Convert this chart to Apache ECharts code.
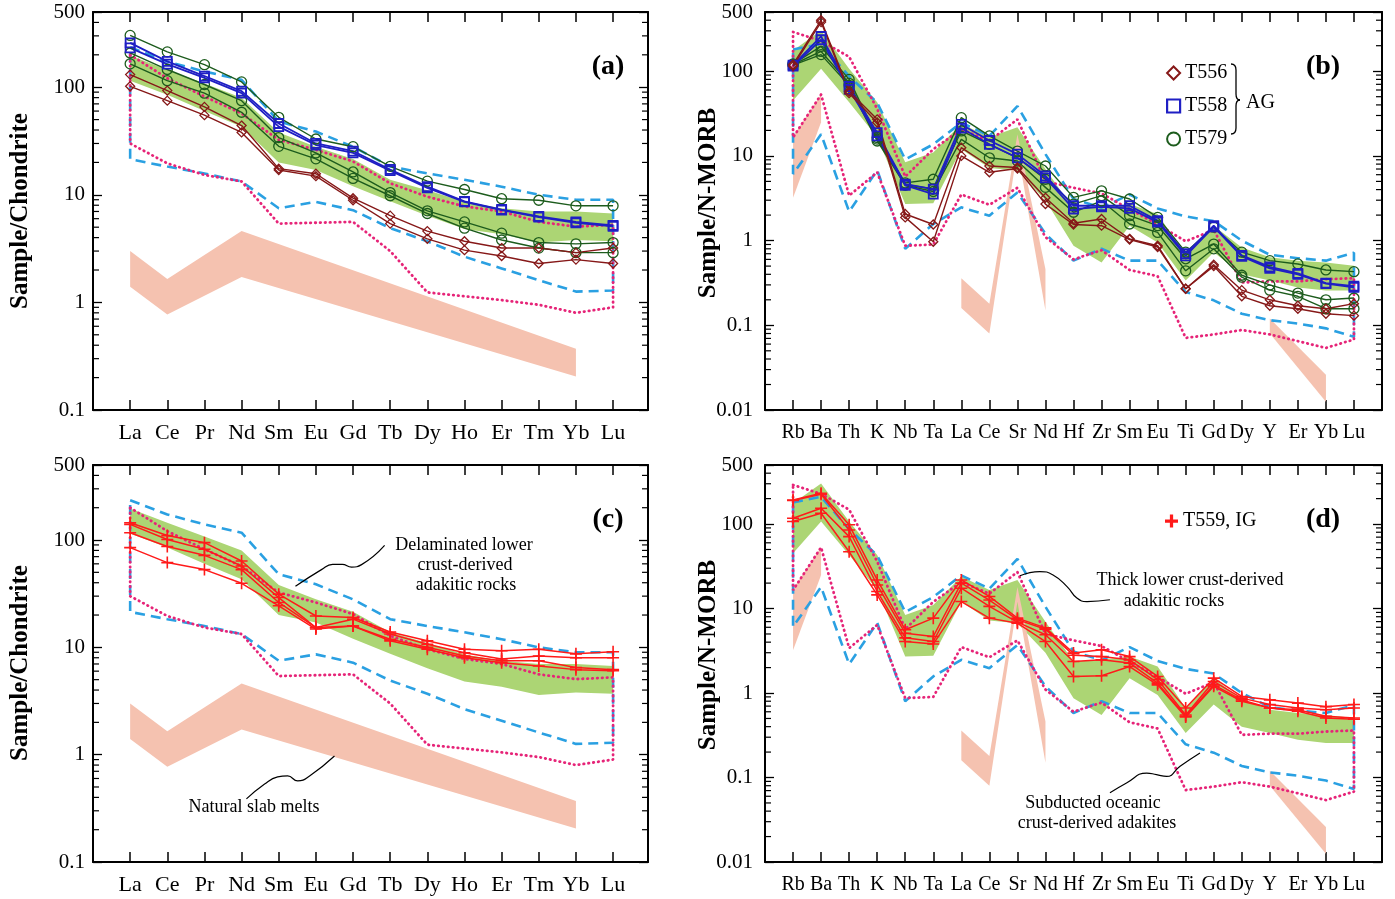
<!DOCTYPE html>
<html><head><meta charset="utf-8">
<script src="https://cdn.jsdelivr.net/npm/echarts@6/dist/echarts.min.js"></script>
<style>html,body{margin:0;padding:0;background:#fff}#c{width:1395px;height:899px}</style>
</head><body><div id="c"></div><script>
// ---------- categories ----------
const REE = ['La','Ce','Pr','Nd','Sm','Eu','Gd','Tb','Dy','Ho','Er','Tm','Yb','Lu'];
const TRACE = ['Rb','Ba','Th','K','Nb','Ta','La','Ce','Sr','Nd','Hf','Zr','Sm','Eu','Ti','Gd','Dy','Y','Er','Yb','Lu'];

// ---------- (a) chondrite-normalised REE, AG samples ----------
const a_T556_1 = [131, 93, 65.6, 44, 17.5, 15.7, 9.3, 6.4, 4.6, 3.7, 3.2, 3.2, 2.9, 3.2];
const a_T556_2 = [102, 75, 55, 38, 17, 14.9, 8.9, 5.4, 3.9, 3.06, 2.7, 2.3, 2.5, 2.3];
const a_T558_1 = [258, 174, 127, 92, 46, 30, 25.5, 17.2, 11.9, 8.7, 7.3, 6.3, 5.6, 5.2];
const a_T558_2 = [232, 164, 122, 88, 43, 29, 24.5, 16.8, 11.6, 8.6, 7.2, 6.2, 5.5, 5.1];
const a_T579_1 = [303, 213, 162, 112, 52.5, 33, 28, 18.4, 13.4, 11.2, 9.2, 8.9, 7.9, 7.9];
const a_T579_2 = [208, 146, 106, 75, 34, 24.5, 16.3, 10.5, 7.1, 5.6, 4.4, 3.6, 3.5, 3.6];
const a_T579_3 = [165, 115, 88, 58.5, 28.2, 21.6, 14.2, 9.8, 6.7, 4.9, 3.8, 3.2, 2.9, 2.9];

// ---------- (c) chondrite-normalised REE, IG sample ----------
const c_T559_1 = [145, 110, 94.5, 63.8, 31.3, 19.6, 19, 13.9, 11.5, 9.6, 9.3, 9.6, 8.7, 9.1];
const c_T559_2 = [140, 101, 82, 57.3, 29.1, 15.3, 18.3, 13.3, 10.7, 8.9, 7.8, 8.3, 8.0, 8.0];
const c_T559_3 = [117, 87, 72, 53, 26.2, 15.3, 15.8, 11.9, 10.0, 8.3, 7.5, 7.5, 6.5, 6.2];
const c_T559_4 = [85, 61.6, 53, 39.5, 24.4, 14.8, 15.8, 11.5, 9.6, 8.0, 7.2, 6.7, 6.2, 6.05];

// ---------- REE reference fields ----------
const reeThickUpper = [197, 145, 108, 80, 38, 28, 21.5, 13.8, 11, 8.6, 7.5, 7.0, 7.0, 6.7];
const reeThickLower = [115, 85, 60, 43, 20, 17, 12, 8.7, 6.4, 4.8, 4.3, 3.6, 3.8, 3.7];
const reeDelamUpper = [235, 173, 140, 117, 48, 38.7, 28, 18.3, 15.8, 13.8, 11.9, 10, 9, 9];
const reeDelamLower = [21.4, 18.3, 15.8, 13.3, 7.5, 8.6, 7.2, 4.9, 3.7, 2.66, 2.07, 1.61, 1.26, 1.29];
const reeSubdUpper = [200, 121, 82, 57, 32.4, 26.2, 20.4, 12.8, 9.6, 7.8, 7.0, 5.6, 5.06, 5.25];
const reeSubdLower = [30, 19.6, 15.3, 13.3, 5.4, 5.5, 5.6, 3.0, 1.24, 1.14, 1.05, 0.95, 0.8, 0.9];
const reeSlabCats = ['La','Ce','Nd','Yb'];
const reeSlabUpper = [3.0, 1.65, 4.6, 0.37];
const reeSlabLower = [1.4, 0.77, 1.72, 0.205];

// ---------- (b) N-MORB-normalised trace, AG samples ----------
const b_T556_1 = [120, 400, 58, 27, 2.06, 1.55, 12.5, 7.6, 7.3, 3.2, 1.6, 1.8, 1.05, 0.87, 0.27, 0.52, 0.26, 0.2, 0.17, 0.157, 0.18];
const b_T556_2 = [115, 380, 55, 24.8, 1.88, 0.97, 10.0, 6.4, 7.1, 2.7, 1.55, 1.5, 1.03, 0.84, 0.27, 0.5, 0.22, 0.17, 0.157, 0.137, 0.13];
const b_T558_1 = [118, 257, 66, 18.8, 4.65, 4.06, 23.5, 15.2, 10.5, 5.8, 2.58, 2.58, 2.58, 1.72, 0.7, 1.5, 0.67, 0.49, 0.41, 0.315, 0.29];
const b_T558_2 = [115, 235, 61, 17.2, 4.5, 3.54, 21.3, 13.7, 9.5, 5.5, 2.36, 2.5, 2.4, 1.65, 0.66, 1.45, 0.65, 0.47, 0.4, 0.31, 0.28];
const b_T579_1 = [122, 196, 80, 16.5, 4.8, 5.3, 28.3, 17.2, 11.4, 7.6, 3.24, 3.87, 3.1, 1.88, 0.73, 1.44, 0.73, 0.58, 0.53, 0.45, 0.43];
const b_T579_2 = [120, 171, 72, 15.8, 4.6, 4.06, 19.7, 13.7, 9.5, 5.3, 2.7, 3.39, 1.97, 1.5, 0.61, 0.91, 0.39, 0.3, 0.24, 0.2, 0.21];
const b_T579_3 = [118, 157, 68, 15.0, 4.5, 3.8, 15.7, 9.5, 8.7, 4.25, 2.16, 2.95, 1.57, 1.25, 0.44, 0.8, 0.37, 0.26, 0.22, 0.157, 0.157];

// ---------- (d) N-MORB-normalised trace, IG sample ----------
const d_T559_1 = [193, 231, 98, 21.8, 5.6, 7.7, 21.8, 13.9, 7.7, 5.9, 2.97, 3.25, 2.7, 1.57, 0.665, 1.5, 0.91, 0.83, 0.76, 0.69, 0.73];
const d_T559_2 = [190, 225, 85, 19, 5.1, 4.67, 20, 12.6, 7.4, 5.7, 2.8, 2.7, 2.47, 1.44, 0.55, 1.37, 0.87, 0.73, 0.665, 0.635, 0.665];
const d_T559_3 = [117, 154, 71, 15.9, 4.5, 4.07, 17.4, 10.6, 6.9, 4.9, 2.36, 2.47, 2.26, 1.31, 0.53, 1.25, 0.83, 0.665, 0.635, 0.53, 0.506];
const d_T559_4 = [107, 134, 47, 14.5, 4.07, 3.8, 12.1, 7.7, 6.7, 4.07, 1.57, 1.6, 2.06, 1.25, 0.52, 1.2, 0.8, 0.665, 0.61, 0.506, 0.49];

// ---------- trace reference fields ----------
const trThickUpper = [176, 303, 107, 43, 8.4, 11, 24, 16.6, 21.8, 7, 2.36, 2.47, 2.7, 2.06, 0.665, 1.5, 0.83, 0.635, 0.58, 0.55, 0.506];
const trThickLower = [45, 107, 43, 16.6, 2.7, 2.76, 12, 7.2, 6.7, 3.0, 0.87, 0.55, 1.5, 0.95, 0.337, 0.73, 0.40, 0.337, 0.28, 0.257, 0.257];
const trDelamUpper = [180, 210, 87, 42.5, 9.1, 13.7, 24.7, 17.2, 38.7, 10.5, 3.1, 2.45, 3.5, 2.4, 1.93, 1.7, 1.0, 0.68, 0.62, 0.58, 0.72];
const trDelamLower = [6.1, 18, 2.2, 6.8, 0.8, 1.57, 2.47, 1.97, 3.7, 1.2, 0.58, 0.8, 0.58, 0.58, 0.247, 0.197, 0.137, 0.115, 0.105, 0.092, 0.073];
const trSubdUpper = [290, 228, 148, 36, 5.7, 12, 20.6, 15, 27, 5, 4.2, 3.6, 2.35, 1.55, 0.98, 1.34, 0.32, 0.33, 0.33, 0.35, 0.36];
const trSubdLower = [16.5, 53, 3.4, 6.4, 0.87, 0.9, 3.5, 2.65, 4.2, 1.1, 0.6, 0.77, 0.45, 0.38, 0.071, 0.078, 0.088, 0.078, 0.065, 0.054, 0.068];
const trSlab1Cats = ['Rb','Ba'];          const trSlab1Upper = [17, 53];            const trSlab1Lower = [3.2, 25];
const trSlab2Cats = ['La','Ce','Sr','Nd']; const trSlab2Upper = [0.36, 0.18, 18, 0.46]; const trSlab2Lower = [0.16, 0.08, 12, 0.15];
const trSlab3Cats = ['Y','Yb'];           const trSlab3Upper = [0.12, 0.026];       const trSlab3Lower = [0.08, 0.0125];

// ---------- annotation leader lines (data space: [category index, value]) ----------
const leaderDelam = [[7.85, 89], [7.23, 59], [6.96, 56], [6.71, 59.4], [6.45, 59.4], [6.15, 53], [5.45, 37]];
const leaderSlab  = [[4.13, 0.387], [4.62, 0.533], [4.97, 0.62], [5.24, 0.634], [5.51, 0.569], [5.83, 0.634], [6.5, 0.973]];
const leaderThick = [[9.09, 24.4], [9.8, 27.4], [10.27, 25.0], [10.77, 18.2], [11.12, 13.3], [11.48, 12.1], [12.3, 12.7]];
const leaderSubd  = [[12.3, 0.0658], [12.89, 0.0863], [13.61, 0.113], [13.96, 0.108], [14.32, 0.103], [14.8, 0.136], [15.51, 0.195]];

// ---------- styling ----------
const FONT = '"Liberation Serif", "Times New Roman", serif';
const C_DIA = '#861818', C_SQ = '#1f1fc4', C_CIR = '#1d5c1d', C_RED = '#ff1a1a';
const C_GREEN = '#acd574', C_SALMON = '#f5c2b0', C_DASH = '#2aa0e2', C_DOT = '#e62478';
const CROSS = 'path://M5.2,0h1.6v5.2h5.2v1.6h-5.2v5.2h-1.6v-5.2h-5.2v-1.6h5.2z';
const CROSS_BOLD = 'path://M4.5,0h3v4.5h4.5v3h-4.5v4.5h-3v-4.5h-4.5v-3h4.5z';

const grids = [
  {left: 93, top: 12, width: 555, height: 398},
  {left: 765, top: 12, width: 617, height: 398},
  {left: 93, top: 465, width: 555, height: 397},
  {left: 765, top: 465, width: 617, height: 397}
];
const panels = [
  {cats: REE, xmax: 14.94, ymin: 0.1, lm: 8, xfs: 22},
  {cats: TRACE, xmax: 22, ymin: 0.01, lm: 12, xfs: 20},
  {cats: REE, xmax: 14.94, ymin: 0.1, lm: 8, xfs: 22},
  {cats: TRACE, xmax: 22, ymin: 0.01, lm: 12, xfs: 20}
];

const xAxis = [], yAxis = [];
panels.forEach((p, g) => {
  const base = {
    gridIndex: g, type: 'value', min: 0, max: p.xmax, interval: 1,
    axisLine: {show: true, onZero: false, lineStyle: {color: '#000', width: 2}},
    axisTick: {show: true, inside: true, length: 10, lineStyle: {color: '#000', width: 1.5}},
    splitLine: {show: false}
  };
  xAxis.push(Object.assign({}, base, {position: 'bottom',
    axisLabel: {show: true, margin: p.xfs === 22 ? 12 : 13, color: '#000', fontFamily: FONT, fontSize: p.xfs,
      showMinLabel: true, showMaxLabel: true,
      formatter: v => { const i = Math.round(v); return (Math.abs(v - i) < 1e-6 && i >= 1 && i <= p.cats.length) ? p.cats[i - 1] : ''; }}}));
  xAxis.push(Object.assign({}, base, {position: 'top', axisLabel: {show: false}}));
  const ybase = {
    gridIndex: g, type: 'log', logBase: 10, min: p.ymin, max: 500,
    axisLine: {show: true, onZero: false, lineStyle: {color: '#000', width: 2}},
    axisTick: {show: true, inside: true, length: 9, lineStyle: {color: '#000', width: 1.3}},
    splitLine: {show: false}
  };
  yAxis.push(Object.assign({}, ybase, {position: 'left',
    axisLabel: {show: true, margin: p.lm, color: '#000', fontFamily: FONT, fontSize: 21,
      showMinLabel: true, showMaxLabel: true, formatter: v => String(+(+v).toPrecision(3))}}));
  yAxis.push(Object.assign({}, ybase, {position: 'right', axisLabel: {show: false}}));
});

const series = [];
const idxOf = (cats, c) => cats.indexOf(c) + 1;

function minorTicks(g) {
  const vals = [];
  for (let e = Math.round(Math.log10(panels[g].ymin)); e <= 2; e++)
    for (let k = 2; k <= 9; k++) { const v = k * Math.pow(10, e); if (v < 500) vals.push(v); }
  series.push({type: 'custom', xAxisIndex: 2 * g, yAxisIndex: 2 * g, data: [[1, 1]], silent: true, z: 10, clip: false,
    renderItem: (params, api) => {
      const cs = params.coordSys; const ch = [];
      vals.forEach(v => {
        const y = api.coord([1, v])[1];
        ch.push({type: 'line', shape: {x1: cs.x, y1: y, x2: cs.x + 6, y2: y}, style: {stroke: '#000', lineWidth: 1.2}});
        ch.push({type: 'line', shape: {x1: cs.x + cs.width - 6, y1: y, x2: cs.x + cs.width, y2: y}, style: {stroke: '#000', lineWidth: 1.2}});
      });
      return {type: 'group', children: ch};
    }});
}

function band(g, xs, upper, lower, color) {
  series.push({type: 'custom', xAxisIndex: 2 * g, yAxisIndex: 2 * g, data: [[1, 1]], silent: true, z: 1,
    renderItem: (params, api) => {
      const pts = [];
      xs.forEach((x, k) => pts.push(api.coord([x, upper[k]])));
      for (let k = xs.length - 1; k >= 0; k--) pts.push(api.coord([xs[k], lower[k]]));
      return {type: 'polygon', shape: {points: pts}, style: {fill: color}};
    }});
}

function outline(g, upper, lower, style) {
  const pts = upper.map((v, i) => [i + 1, v]);
  for (let i = lower.length - 1; i >= 0; i--) pts.push([i + 1, lower[i]]);
  pts.push([1, upper[0]]);
  series.push({type: 'line', xAxisIndex: 2 * g, yAxisIndex: 2 * g, data: pts, symbol: 'none', silent: true, z: 3,
    lineStyle: style});
}

function sample(g, name, arr, sym, size, color, lw, bw) {
  const filled = sym.indexOf('path://') === 0;
  series.push({type: 'line', name: name, xAxisIndex: 2 * g, yAxisIndex: 2 * g,
    data: arr.map((v, i) => [i + 1, v]), symbol: sym, symbolSize: size, z: 5,
    lineStyle: {color: color, width: lw},
    itemStyle: filled ? {color: color} : {color: 'rgba(255,255,255,0)', borderColor: color, borderWidth: bw}});
}

function leader(g, pts) {
  series.push({type: 'line', xAxisIndex: 2 * g, yAxisIndex: 2 * g, data: pts, symbol: 'none', smooth: 0.5, silent: true, z: 6,
    lineStyle: {color: '#000', width: 1.2}});
}

const DASH = {color: C_DASH, width: 2.6, type: [10, 6]};
const DOT = {color: C_DOT, width: 2.8, type: [0.5, 4.4], cap: 'round'};

// REE panels (a) and (c)
[0, 2].forEach(g => {
  band(g, REE.map((c, i) => i + 1), reeThickUpper, reeThickLower, C_GREEN);
  band(g, reeSlabCats.map(c => idxOf(REE, c)), reeSlabUpper, reeSlabLower, C_SALMON);
  outline(g, reeDelamUpper, reeDelamLower, DASH);
  outline(g, reeSubdUpper, reeSubdLower, DOT);
  minorTicks(g);
});
// trace panels (b) and (d)
[1, 3].forEach(g => {
  band(g, TRACE.map((c, i) => i + 1), trThickUpper, trThickLower, C_GREEN);
  band(g, trSlab1Cats.map(c => idxOf(TRACE, c)), trSlab1Upper, trSlab1Lower, C_SALMON);
  band(g, trSlab2Cats.map(c => idxOf(TRACE, c)), trSlab2Upper, trSlab2Lower, C_SALMON);
  band(g, trSlab3Cats.map(c => idxOf(TRACE, c)), trSlab3Upper, trSlab3Lower, C_SALMON);
  outline(g, trDelamUpper, trDelamLower, DASH);
  outline(g, trSubdUpper, trSubdLower, DOT);
  minorTicks(g);
});

// samples
[[0, [a_T579_1, a_T579_2, a_T579_3], [a_T558_1, a_T558_2], [a_T556_1, a_T556_2]],
 [1, [b_T579_1, b_T579_2, b_T579_3], [b_T558_1, b_T558_2], [b_T556_1, b_T556_2]]].forEach(([g, cir, sq, dia]) => {
  cir.forEach(a => sample(g, 'T579', a, 'circle', 10, C_CIR, 1.4, 1.3));
  sq.forEach(a => sample(g, 'T558', a, 'rect', 9, C_SQ, 1.8, 1.8));
  dia.forEach(a => sample(g, 'T556', a, 'diamond', 9, C_DIA, 1.4, 1.3));
});
[c_T559_1, c_T559_2, c_T559_3, c_T559_4].forEach(a => sample(2, 'T559, IG', a, CROSS, 12, C_RED, 1.5));
[d_T559_1, d_T559_2, d_T559_3, d_T559_4].forEach(a => sample(3, 'T559, IG', a, CROSS, 12, C_RED, 1.5));

leader(2, leaderDelam);
leader(2, leaderSlab);
leader(3, leaderThick);
leader(3, leaderSubd);

const txt = (x, y, text, size, opts) => Object.assign({type: 'text', x: x, y: y, z: 20,
  style: {text: text, font: (opts && opts.bold ? 'bold ' : '') + size + 'px ' + FONT, fill: '#000', align: 'center', verticalAlign: 'middle'}},
  opts && opts.rot ? {rotation: Math.PI / 2} : {});

const bs = {stroke: '#000', lineWidth: 1.3, fill: null};
const graphic = [
  txt(21, 211, 'Sample/Chondrite', 25, {bold: true, rot: true}),
  txt(21, 663, 'Sample/Chondrite', 25, {bold: true, rot: true}),
  txt(709, 203, 'Sample/N-MORB', 25, {bold: true, rot: true}),
  txt(709, 655, 'Sample/N-MORB', 25, {bold: true, rot: true}),
  txt(608, 67, '(a)', 28, {bold: true}),
  txt(1323, 67, '(b)', 28, {bold: true}),
  txt(608, 520, '(c)', 28, {bold: true}),
  txt(1323, 520, '(d)', 28, {bold: true}),
  txt(464, 545, 'Delaminated lower', 18),
  txt(465, 565, 'crust-derived', 18),
  txt(466, 585, 'adakitic rocks', 18),
  txt(254, 807, 'Natural slab melts', 18),
  txt(1190, 580, 'Thick lower crust-derived', 18),
  txt(1174, 601, 'adakitic rocks', 18),
  txt(1093, 803, 'Subducted oceanic', 18),
  txt(1097, 823, 'crust-derived adakites', 18),
  {type: 'group', x: 1231, y: 64, z: 20, children: [
    {type: 'bezierCurve', shape: {x1: 0, y1: 0, cpx1: 4, cpy1: 0, cpx2: 5, cpy2: 2, x2: 5, y2: 6}, style: bs},
    {type: 'line', shape: {x1: 5, y1: 6, x2: 5, y2: 30}, style: bs},
    {type: 'bezierCurve', shape: {x1: 5, y1: 30, cpx1: 5, cpy1: 34, cpx2: 6, cpy2: 36, x2: 9, y2: 36}, style: bs},
    {type: 'bezierCurve', shape: {x1: 9, y1: 36, cpx1: 6, cpy1: 36, cpx2: 5, cpy2: 38, x2: 5, y2: 42}, style: bs},
    {type: 'line', shape: {x1: 5, y1: 42, x2: 5, y2: 64}, style: bs},
    {type: 'bezierCurve', shape: {x1: 5, y1: 64, cpx1: 5, cpy1: 68, cpx2: 4, cpy2: 70, x2: 0, y2: 70}, style: bs}
  ]},
  {type: 'text', x: 1246, y: 103, z: 20, style: {text: 'AG', font: '20px ' + FONT, fill: '#000', align: 'left', verticalAlign: 'middle'}}
];

const legend = [
  {orient: 'vertical', left: 1161, top: 58, itemGap: 13, itemWidth: 13, itemHeight: 13, selectedMode: false,
   textStyle: {fontFamily: FONT, fontSize: 20, color: '#000'},
   data: [
     {name: 'T556', icon: 'diamond', itemStyle: {color: 'rgba(255,255,255,0)', borderColor: C_DIA, borderWidth: 2}},
     {name: 'T558', icon: 'rect', itemStyle: {color: 'rgba(255,255,255,0)', borderColor: C_SQ, borderWidth: 2.2}},
     {name: 'T579', icon: 'circle', itemStyle: {color: 'rgba(255,255,255,0)', borderColor: C_CIR, borderWidth: 2}}
   ]},
  {orient: 'vertical', left: 1160, top: 506, itemWidth: 13, itemHeight: 13, selectedMode: false,
   textStyle: {fontFamily: FONT, fontSize: 20, color: '#000'},
   data: [{name: 'T559, IG', icon: CROSS_BOLD, itemStyle: {color: C_RED}}]}
];

const chart = echarts.init(document.getElementById('c'), null, {renderer: 'canvas'});
chart.setOption({animation: false, backgroundColor: '#fff', grid: grids, xAxis: xAxis, yAxis: yAxis,
  series: series, legend: legend, graphic: graphic});
</script></body></html>
